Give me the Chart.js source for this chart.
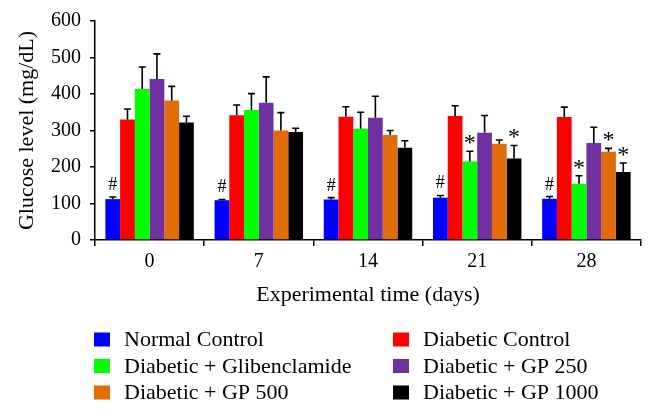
<!DOCTYPE html>
<html>
<head>
<meta charset="utf-8">
<script src="https://cdn.jsdelivr.net/npm/chart.js@4/dist/chart.umd.min.js"></script>
<style>
  html, body { margin: 0; padding: 0; background: #fff; }
  #wrap { width: 656px; height: 417px; }
</style>
</head>
<body>
<div id="wrap"><canvas id="glucoseChart" width="656" height="417"></canvas></div>
<script>
// --- data ---
const days = ['0', '7', '14', '21', '28'];
const groups = ['Normal Control', 'Diabetic Control', 'Diabetic + Glibenclamide',
                'Diabetic + GP 250', 'Diabetic + GP 500', 'Diabetic + GP 1000'];
const colors = ['#0000ff', '#ff0000', '#00ff00', '#7030a0', '#e36c0a', '#000000'];

const normalControl   = [112, 109, 111, 116, 113];
const diabeticControl = [330, 342, 338, 340, 337];
const glibenclamide   = [414, 356, 305, 215, 154];
const gp250           = [441, 376, 335, 294, 266];
const gp500           = [382, 300, 288, 264, 242];
const gp1000          = [322, 296, 253, 223, 186];

const errNormal   = [6, 2, 5, 6, 6];
const errDiabetic = [29, 28, 27, 28, 27];
const errGlib     = [60, 45, 45, 28, 22];
const errGp250    = [69, 71, 59, 47, 43];
const errGp500    = [39, 49, 12, 10, 9];
const errGp1000   = [17, 10, 19, 36, 25];

// significance marks above each bar
const markNormal   = ['#', '#', '#', '#', '#'];
const markDiabetic = ['', '', '', '', ''];
const markGlib     = ['', '', '', '*', '*'];
const markGp250    = ['', '', '', '', ''];
const markGp500    = ['', '', '', '', '*'];
const markGp1000   = ['', '', '', '*', '*'];

const yTicks = [0, 100, 200, 300, 400, 500, 600];

const values = [normalControl, diabeticControl, glibenclamide, gp250, gp500, gp1000];
const errors = [errNormal, errDiabetic, errGlib, errGp250, errGp500, errGp1000];
const marks  = [markNormal, markDiabetic, markGlib, markGp250, markGp500, markGp1000];

const FONT = 'Liberation Serif';

// error bars + # / * marks
const errorBarPlugin = {
    id: 'errorBars',
    afterDatasetsDraw(chart) {
        const ctx = chart.ctx;
        const y = chart.scales.y;
        ctx.save();
        chart.data.datasets.forEach((ds, i) => {
            const meta = chart.getDatasetMeta(i);
            meta.data.forEach((bar, j) => {
                const top = y.getPixelForValue(values[i][j] + errors[i][j]);
                const base = y.getPixelForValue(values[i][j]);
                ctx.strokeStyle = '#000';
                ctx.lineWidth = 1.6;
                ctx.beginPath();
                ctx.moveTo(bar.x, base);
                ctx.lineTo(bar.x, top);
                ctx.moveTo(bar.x - 3.5, top);
                ctx.lineTo(bar.x + 3.5, top);
                ctx.stroke();

                const m = marks[i][j];
                if (m) {
                    ctx.fillStyle = '#000';
                    ctx.font = (m === '*' ? '24px "' : '18px "') + FONT + '"';
                    ctx.textAlign = 'center';
                    ctx.textBaseline = 'alphabetic';
                    // centre the glyph itself a fixed gap above the cap
                    const tm = ctx.measureText(m);
                    const mid = (tm.actualBoundingBoxAscent - tm.actualBoundingBoxDescent) / 2;
                    const gap = m === '*' ? 11.5 : 13.5;
                    ctx.fillText(m, bar.x, top - gap + mid);
                }
            });
        });
        ctx.restore();
    }
};

// two-column legend under the axis title
const legendPlugin = {
    id: 'twoColLegend',
    afterDraw(chart) {
        const ctx = chart.ctx;
        const cols = [94, 393];
        const rows = [339.5, 366, 392.5];
        ctx.save();
        ctx.font = '22px "' + FONT + '"';
        ctx.textBaseline = 'middle';
        ctx.textAlign = 'left';
        groups.forEach((g, k) => {
            const x = cols[k % 2];
            const yy = rows[Math.floor(k / 2)];
            ctx.fillStyle = colors[k];
            ctx.fillRect(x, yy - 7, 16, 14);
            ctx.fillStyle = '#000';
            ctx.fillText(g, x + 30, yy + 1);
        });
        ctx.restore();
    }
};

new Chart(document.getElementById('glucoseChart').getContext('2d'), {
    type: 'bar',
    data: {
        labels: days,
        datasets: groups.map((g, i) => ({
            label: g,
            data: values[i],
            backgroundColor: colors[i],
            borderWidth: 0,
            categoryPercentage: 0.81,
            barPercentage: 1.0
        }))
    },
    options: {
        responsive: false,
        animation: false,
        layout: { padding: { top: 21, right: 15, bottom: 0, left: 0 } },
        plugins: {
            legend: { display: false },
            tooltip: { enabled: false }
        },
        scales: {
            x: {
                afterFit(scale) { scale.height = 177; },
                grid: { display: true, drawOnChartArea: false, offset: true, tickLength: 6, color: '#000', lineWidth: 1.5 },
                border: { display: true, color: '#000', width: 1.5 },
                ticks: { color: '#000', font: { family: FONT, size: 20 }, padding: 4 },
                title: {
                    display: true,
                    text: 'Experimental time (days)',
                    color: '#000',
                    font: { family: FONT, size: 22 },
                    padding: { top: 0, bottom: 109 }
                }
            },
            y: {
                min: 0,
                max: 600,
                afterFit(scale) { scale.width = 95; },
                afterBuildTicks(scale) { scale.ticks = yTicks.map(v => ({ value: v })); },
                grid: { display: true, drawOnChartArea: false, tickLength: 5, color: '#000', lineWidth: 1.5 },
                border: { display: true, color: '#000', width: 1.5 },
                ticks: { color: '#000', font: { family: FONT, size: 20 }, padding: 9 },
                title: {
                    display: true,
                    text: 'Glucose level (mg/dL)',
                    color: '#000',
                    font: { family: FONT, size: 22 },
                    padding: { top: 14, bottom: 0 }
                }
            }
        }
    },
    plugins: [errorBarPlugin, legendPlugin]
});
</script>
</body>
</html>
